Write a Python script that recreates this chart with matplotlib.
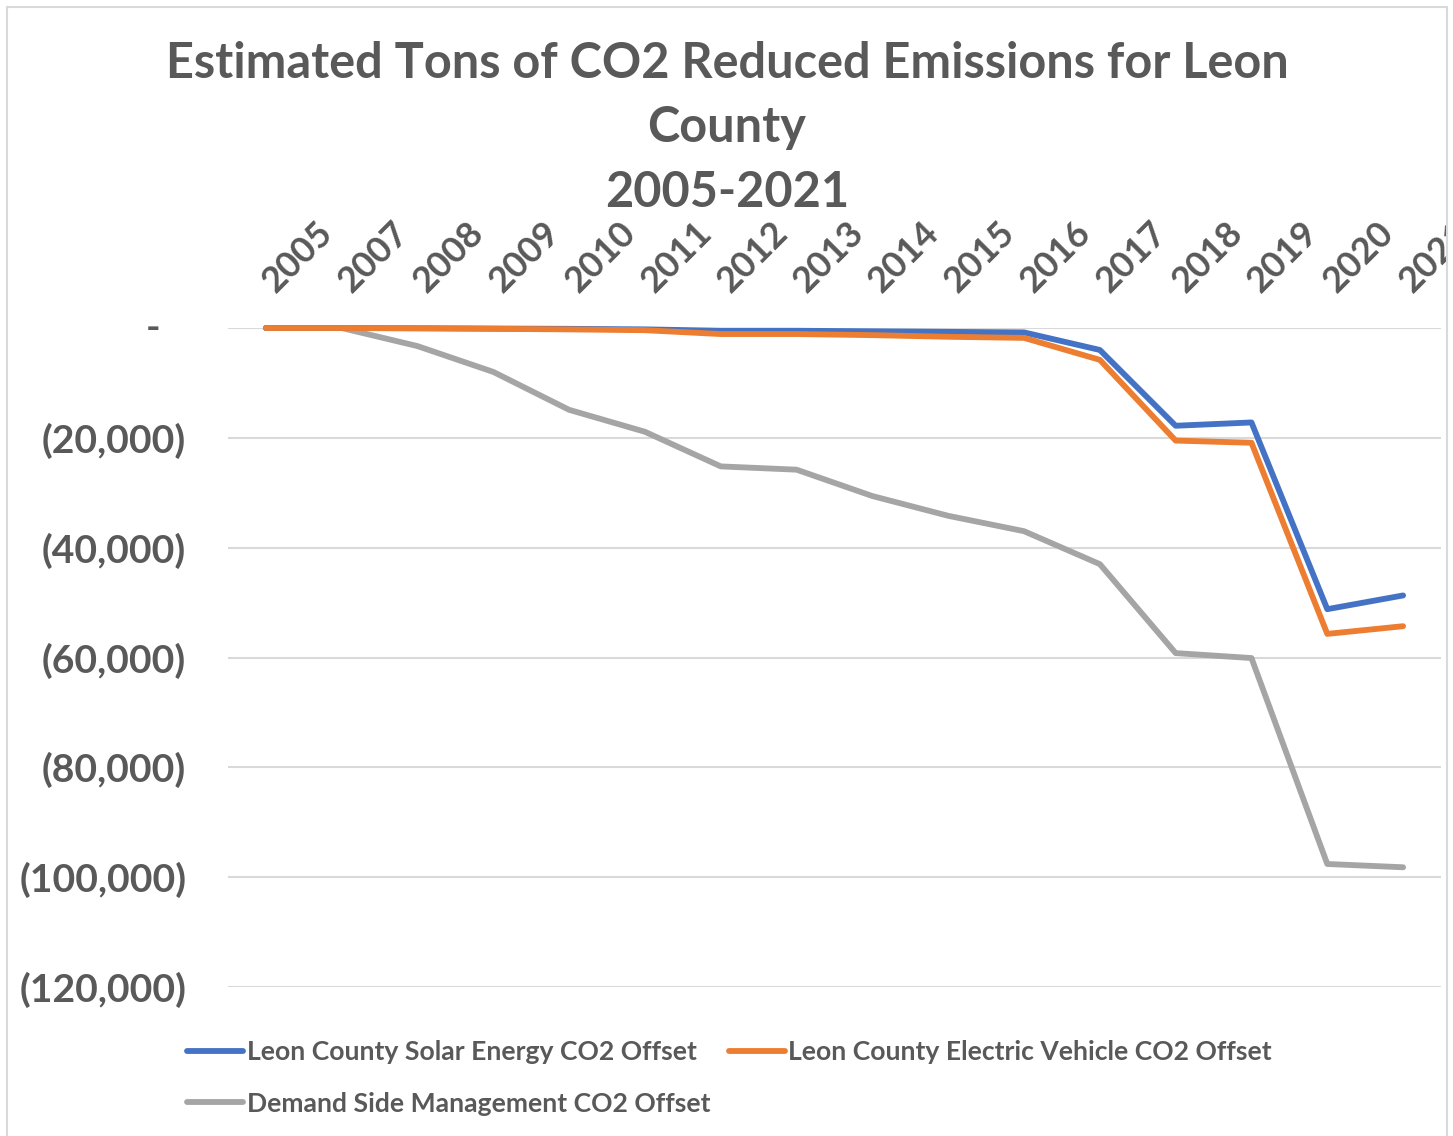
import matplotlib
matplotlib.use("Agg")
import matplotlib.pyplot as plt
from matplotlib.patches import Rectangle
from matplotlib.ticker import FuncFormatter
from matplotlib.transforms import Bbox, TransformedBbox

# data (tons CO2, negative = reduced)
years = ["2005", "2007", "2008", "2009", "2010", "2011", "2012", "2013",
         "2014", "2015", "2016", "2017", "2018", "2019", "2020", "2021"]
solar = [0, 0, -50, -100, -150, -250, -500, -500, -600, -700, -800,
         -4000, -17800, -17200, -51200, -48700]
ev = [0, 0, -50, -150, -250, -400, -1100, -1100, -1300, -1600, -1800,
      -5800, -20500, -20900, -55700, -54300]
dsm = [0, 0, -3300, -8000, -14900, -18900, -25200, -25800, -30600, -34200,
       -37000, -43000, -59200, -60100, -97600, -98200]
series_names = ["Leon County Solar Energy CO2 Offset",
                "Leon County Electric Vehicle CO2 Offset",
                "Demand Side Management CO2 Offset"]
title_lines = ["Estimated Tons of CO2 Reduced Emissions for Leon", "County", "2005-2021"]
yticks = list(range(-120000, 1, 20000))

plt.rcParams['font.family'] = ['Lato', 'DejaVu Sans']
plt.rcParams['font.weight'] = 'bold'

TXT = '#595959'
GRID = '#D9D9D9'
W, H = 1453, 1136

fig = plt.figure(figsize=(W / 100, H / 100), dpi=100)
ax = fig.add_axes([228 / W, 1 - 987 / H, (1441 - 228) / W, (987 - 328) / H])

x = list(range(len(years)))
kw = dict(lw=4.2, solid_capstyle='round', solid_joinstyle='round', clip_on=False)
l1, = ax.plot(x, solar, color='#4472C4', label=series_names[0], zorder=3, **kw)
l2, = ax.plot(x, ev, color='#ED7D31', label=series_names[1], zorder=4, **kw)
l3, = ax.plot(x, dsm, color='#A5A5A5', label=series_names[2], zorder=2, **kw)

ax.set_xlim(-0.5, len(years) - 0.5)
ax.set_ylim(-120000, 0)
ax.set_yticks(yticks)


def acct(v, pos):
    if v == 0:
        return ''
    return '({:,.0f})'.format(abs(v))


ax.yaxis.set_major_formatter(FuncFormatter(acct))
ax.tick_params(axis='y', length=0, pad=30, labelsize=28.2, labelcolor=TXT)
ax.annotate('-', xy=(0, 0), xycoords=('axes fraction', 'data'),
            xytext=(-68, 0), textcoords='offset pixels',
            ha='right', va='center', fontsize=28.2, color=TXT)

ax.grid(axis='y', color=GRID, lw=1.5)
ax.set_axisbelow(True)
for s in ax.spines.values():
    s.set_visible(False)

ax.xaxis.tick_top()
ax.set_xticks(x)
ax.set_xticklabels(years, rotation=45, rotation_mode='anchor',
                   ha='left', va='center_baseline')
ax.tick_params(axis='x', length=0, pad=31, labelsize=26, labelcolor=TXT)

# chart border, last year label gets cut by it like in Excel
border = Rectangle((7 / W, -0.01), (1447 - 7) / W, 1 - 7 / H + 0.01,
                   transform=fig.transFigure, fill=False, ec=GRID, lw=1.5)
fig.add_artist(border)
clip = TransformedBbox(Bbox([[0, 0], [1446 / W, 1]]), fig.transFigure)
for lbl in ax.get_xticklabels():
    lbl.set_clip_box(clip)
    lbl.set_clip_on(True)

for txt, base in zip(title_lines, [78, 142, 207]):
    fig.text(727 / W, 1 - base / H, txt, ha='center', va='baseline',
             fontsize=35, color=TXT)

fs = 19.1
fpx = fs * 100 / 72
ax.legend([l1, l3, l2], [series_names[0], series_names[2], series_names[1]],
          loc='upper left', bbox_to_anchor=(187 / W, 1 - 1040 / H),
          bbox_transform=fig.transFigure, ncol=2, frameon=False, fontsize=fs,
          handlelength=56 / fpx, handletextpad=4 / fpx, columnspacing=18 / fpx,
          borderpad=0, borderaxespad=0, labelspacing=1.04, labelcolor=TXT)

fig.savefig('out.png', dpi=100)
